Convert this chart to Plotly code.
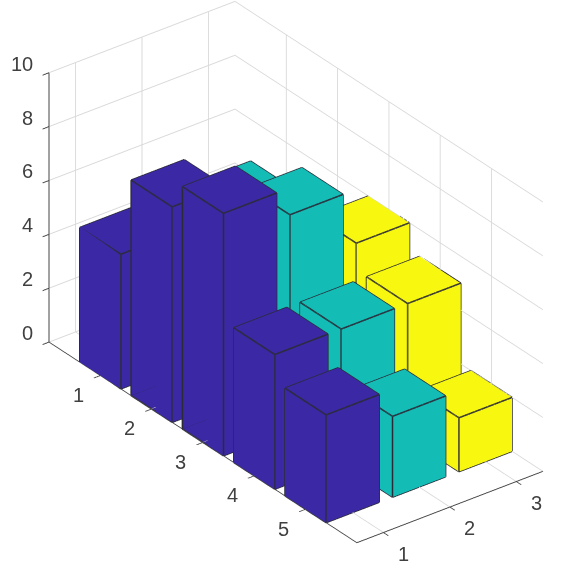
import math
import plotly.graph_objects as go

rows = [1, 2, 3, 4, 5]
cols = [1, 2, 3]
blue_vals = [5, 8, 9, 5, 4]
teal_vals = [4, 7, 8, 5, 3]
yellow_vals = [3, 4, 6, 5, 2]
series = [blue_vals, teal_vals, yellow_vals]
colors = ["#3A28A4", "#13BDB6", "#F7F70F"]
z_ticks = [0, 2, 4, 6, 8, 10]
x_range = [0.6, 3.4]
y_range = [6, 0]
half = 0.4
EDGE = "#2B2B38"

fig = go.Figure()
quads = [(0,1,2,3),(4,5,6,7),(0,1,5,4),(1,2,6,5),(2,3,7,6),(3,0,4,7)]
for col, vals, color in zip(cols, series, colors):
    for row, h in zip(rows, vals):
        xs = [col-half, col+half, col+half, col-half]*2
        ys = [row-half, row-half, row+half, row+half]*2
        zs = [0]*4 + [h]*4
        i, j, k = [], [], []
        for a, b, c, d in quads:
            i += [a, a]; j += [b, c]; k += [c, d]
        fig.add_trace(go.Mesh3d(x=xs, y=ys, z=zs, i=i, j=j, k=k, color=color, flatshading=True,
                                lighting=dict(ambient=1, diffuse=0, specular=0, roughness=1, fresnel=0),
                                hoverinfo="skip", showlegend=False))
        ex, ey, ez = [], [], []
        for a, b in [(0,1),(1,2),(2,3),(3,0),(4,5),(5,6),(6,7),(7,4),(0,4),(1,5),(2,6),(3,7)]:
            ex += [xs[a], xs[b], None]; ey += [ys[a], ys[b], None]; ez += [zs[a], zs[b], None]
        fig.add_trace(go.Scatter3d(x=ex, y=ey, z=ez, mode="lines", line=dict(color=EDGE, width=3),
                                   hoverinfo="skip", showlegend=False))

label_font = dict(family="Liberation Sans", size=20, color="#404040")
annotations = []
for v in z_ticks:
    annotations.append(dict(x=x_range[0], y=y_range[1], z=v, text=str(v), showarrow=False, font=label_font,
                            xanchor="right", yanchor="middle", xshift=-14, yshift=9))
for v in rows:
    annotations.append(dict(x=x_range[0], y=v, z=0, text=str(v), showarrow=False, font=label_font,
                            xanchor="center", yanchor="middle", xshift=-22, yshift=-19.5))
for v in cols:
    annotations.append(dict(x=v, y=y_range[0], z=0, text=str(v), showarrow=False, font=label_font,
                            xanchor="center", yanchor="middle", xshift=20, yshift=-21))

ax = dict(showbackground=False, showgrid=True, gridcolor="#D8D8D8", gridwidth=2, zeroline=False,
          showline=True, linecolor="#444444", linewidth=2, ticks="outside", ticklen=8, tickwidth=2,
          tickcolor="#444444", showticklabels=False,
          title=dict(text=""), showspikes=False, mirror=False)
az, el = math.radians(-37.5), math.radians(30)
d = 1.156
c = dict(x=-0.058, y=0.0096, z=-0.048)
eye = dict(x=c["x"]+d*math.cos(el)*math.sin(az), y=c["y"]-d*math.cos(el)*math.cos(az), z=c["z"]+d*math.sin(el))
fig.update_layout(
    width=562, height=576, margin=dict(l=0, r=0, t=0, b=0), paper_bgcolor="white", showlegend=False,
    scene=dict(
        domain=dict(x=[0, 1], y=[0, 1]),
        xaxis=dict(ax, range=x_range, tickvals=cols),
        yaxis=dict(ax, range=y_range, tickvals=rows),
        zaxis=dict(ax, range=[0, 10], tickvals=z_ticks),
        aspectmode="manual", aspectratio=dict(x=0.814, y=1.756, z=1.08),
        camera=dict(eye=eye, center=c, up=dict(x=0, y=0, z=1),
                    projection=dict(type="orthographic")),
        annotations=annotations,
    ),
)
fig.write_html("out.html", config=dict(displayModeBar=False),
               post_script="document.body.style.margin='0';document.body.style.overflow='hidden';")
